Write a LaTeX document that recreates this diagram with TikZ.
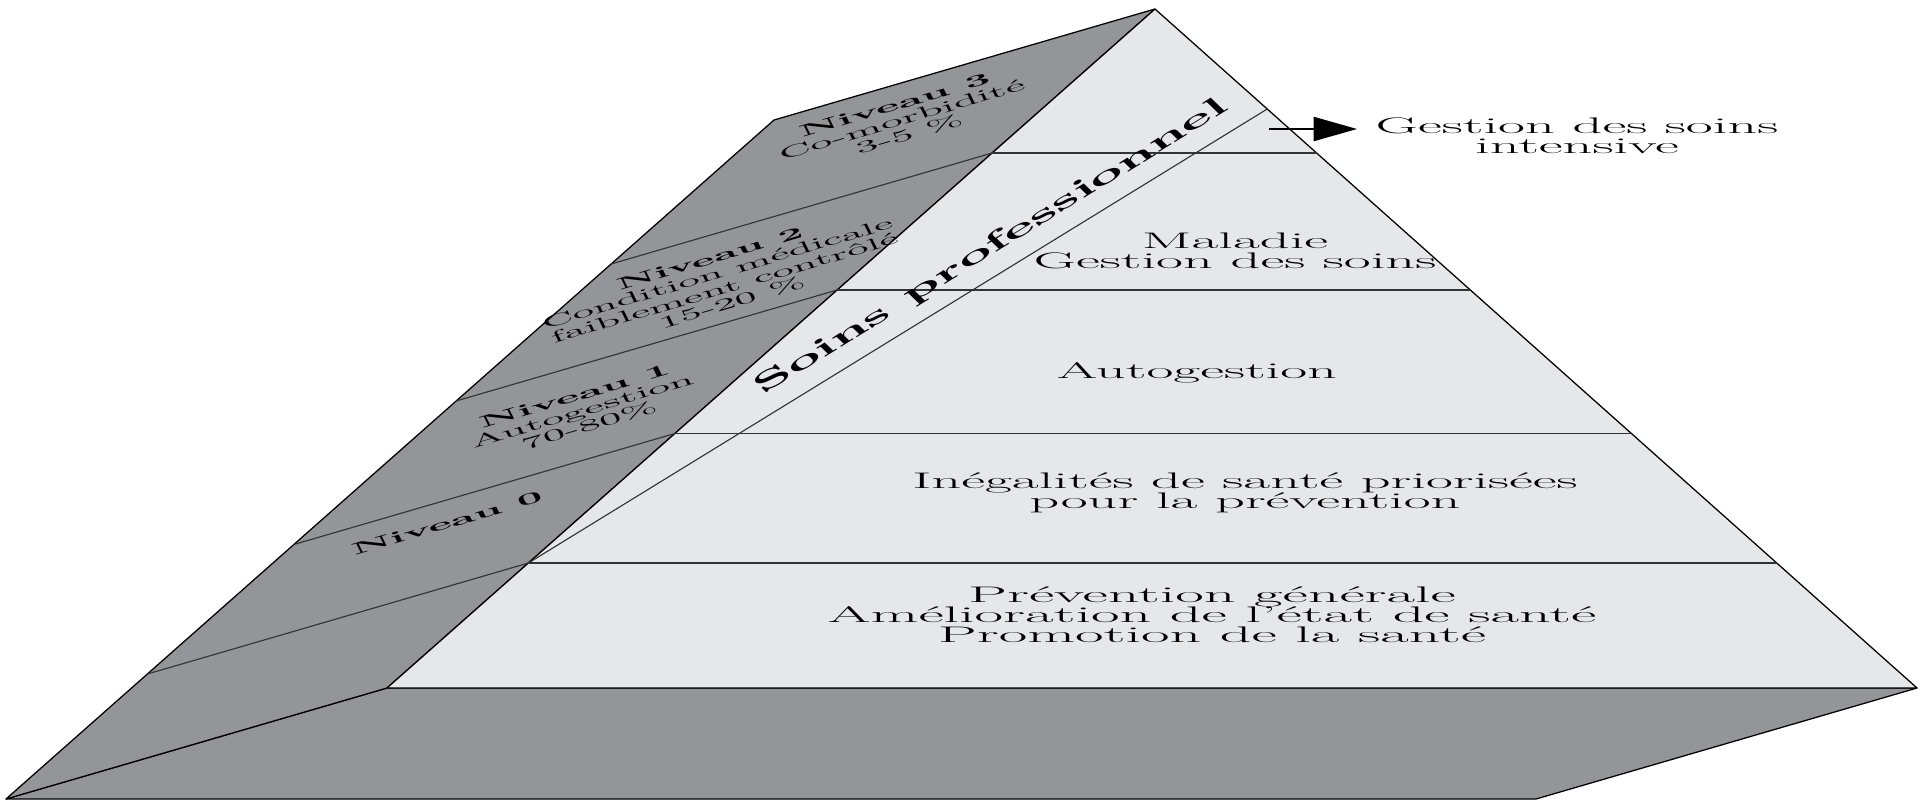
\documentclass[tikz,border=0pt]{standalone}
\usepackage{graphicx}
\usetikzlibrary{calc}
\usetikzlibrary{arrows.meta}

\definecolor{sidegray}{HTML}{939598}
\definecolor{frontgray}{HTML}{E6E7E8}

% text laid on a face: widened, turned, then stretched
\newcommand{\facetext}[3][2]{%
  \scalebox{1.3}[1]{\rotatebox{#2}{\scalebox{#1}[1]{%
    \vbox{\let\\\cr\lineskiplimit=-20pt\halign{\hfil##\hfil\cr#3\crcr}}}}}}

\begin{document}
\begin{tikzpicture}[x=0.025cm, y=-0.025cm, line join=round,
    sideface/.style={fill=sidegray, draw=black, line width=0.9pt},
    frontface/.style={fill=frontgray, draw=black, line width=0.9pt},
    edge/.style={draw=black!80, line width=0.8pt},
    facelabel/.style={inner sep=0pt, font=\fontsize{11.5}{11.2}\selectfont},
    levellabel/.style={inner sep=0pt, font=\fontsize{16}{14.2}\selectfont}]

        \useasboundingbox (0,0) rectangle (1920,803);

        % Define corners and depth of the pyramid
        \def\dx{-381}
        \def\dy{111}
        \coordinate (apex) at (1155,9);
        \coordinate (front_l) at (387,688);
        \coordinate (front_r) at (1917,688);
        \coordinate (back_top) at ($(apex)+(\dx,\dy)$);
        \coordinate (back_l) at ($(front_l)+(\dx,\dy)$);
        \coordinate (back_r) at ($(front_r)+(\dx,\dy)$);

        % faces
        \filldraw[sideface] (front_l) -- (front_r) -- (back_r) -- (back_l) -- cycle;
        \filldraw[sideface] (apex) -- (front_l) -- (back_l) -- (back_top) -- cycle;
        \filldraw[frontface] (apex) -- (front_r) -- (front_l) -- cycle;

        % levels
        \foreach \t/\n in {0.2121/one, 0.4138/two, 0.6252/three, 0.8159/four} {
            \coordinate (lvl_\n_l) at ($(apex)!\t!(front_l)$);
            \coordinate (lvl_\n_r) at ($(apex)!\t!(front_r)$);
            \draw[edge] (lvl_\n_l) -- (lvl_\n_r);
            \draw[edge] (lvl_\n_l) -- ++(\dx,\dy);
        }

        % band of professional care
        \coordinate (band_top) at ($(apex)!0.1473!(front_r)$);
        \draw[edge] (lvl_four_l) -- (band_top);

        % labels on the side
        \node[facelabel] (niveau_3) at (902,120) {\facetext[2.2]{20.8}{\bfseries Niveau 3\\Co-morbidité\\3-5 \%}};
        \node[facelabel] (niveau_2) at (721,281) {\facetext[2.15]{20.8}{\bfseries Niveau 2\\Condition médicale\\faiblement contrôlé\\15-20 \%}};
        \node[facelabel] (niveau_1) at (582,411) {\facetext[2.2]{20.8}{\bfseries Niveau 1\\Autogestion\\70-80\%}};
        \node[facelabel] (niveau_0) at (447,523) {\facetext[2.2]{20.8}{\bfseries Niveau 0}};
        \node[inner sep=0pt, font=\fontsize{18}{18}\selectfont\bfseries] (soins) at (992,247) {\facetext[1.95]{38.5}{Soins professionnel}};

        % labels on the front
        \node[levellabel] (maladie) at (1235,251) {\facetext{0}{Maladie\\Gestion des soins}};
        \node[levellabel] (autogestion) at (1197,373) {\facetext{0}{Autogestion}};
        \node[levellabel] (inegalites) at (1245,493) {\facetext{0}{Inégalités de santé priorisées\\pour la prévention}};
        \node[levellabel] (prevention) at (1212,615) {\facetext[2.12]{0}{Prévention générale\\Amélioration de l’état de santé\\Promotion de la santé}};

        % intensive care
        \node[levellabel] (intensive) at (1577,136) {\facetext{0}{Gestion des soins\\intensive}};
        \coordinate (arrow_start) at (1269,129);
        \draw[-{Triangle[length=31pt,width=17pt]}, line width=2pt, shorten >=13pt] (arrow_start) -- (arrow_start -| intensive.west);

\end{tikzpicture}
\end{document}
